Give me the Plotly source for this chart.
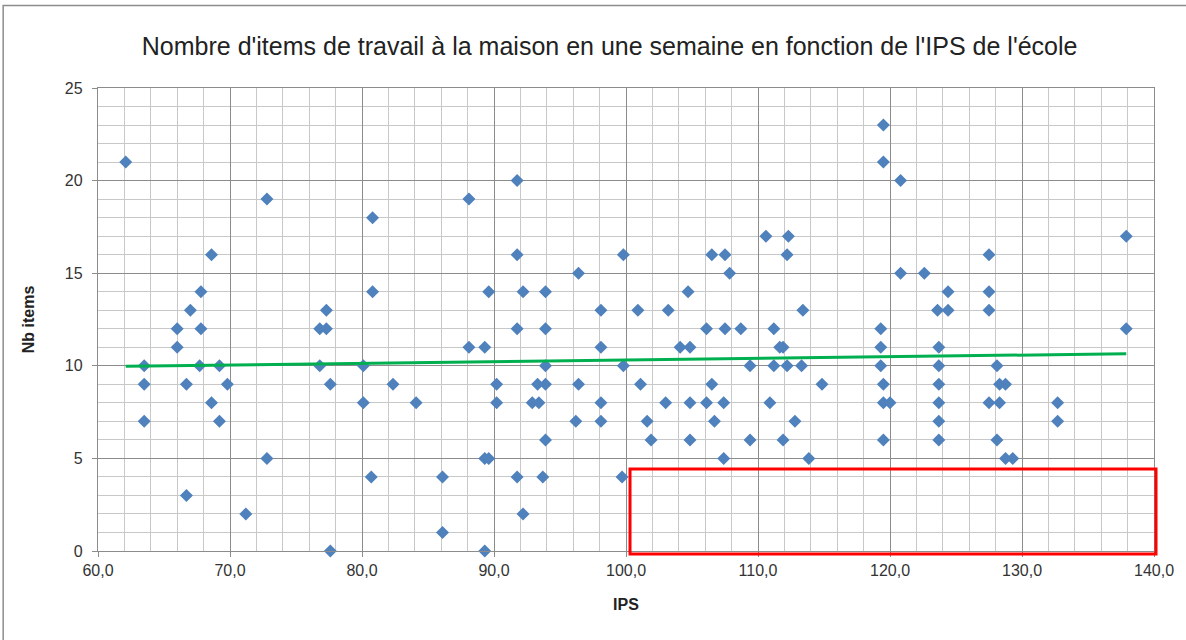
import plotly.graph_objects as go

# points, grouped by number of items (y)
ips = [
    119.5,
    62.1, 119.5,
    91.75, 120.8,
    72.8, 88.1,
    80.8,
    110.6, 112.3, 137.9,
    68.6, 91.75, 99.8, 106.5, 107.5, 112.2, 127.5,
    96.4, 107.85, 120.8, 122.6,
    67.8, 80.8, 89.6, 92.2, 93.9, 104.7, 124.4, 127.5,
    67.0, 77.3, 98.1, 100.9, 103.2, 113.4, 123.6, 124.4, 127.5,
    66.0, 67.8, 76.8, 77.3, 91.75, 93.9, 106.1, 107.5, 108.7, 111.2, 119.3, 137.9,
    66.0, 88.1, 89.3, 98.1, 104.1, 104.85, 111.65, 111.9, 119.3, 123.7,
    63.5, 67.7, 69.2, 76.8, 80.1, 93.9, 99.8, 109.4, 111.2, 112.2, 113.3, 119.3, 123.7, 128.1,
    63.5, 66.7, 69.8, 77.6, 82.35, 90.2, 93.3, 93.9, 96.4, 101.1, 106.5, 114.85, 119.5, 123.7, 128.3, 128.75,
    68.6, 80.1, 84.1, 90.2, 92.9, 93.4, 98.1, 103.0, 104.85, 106.1, 107.4, 110.9, 119.5, 120.0, 123.7, 127.5, 128.3, 132.7,
    63.5, 69.2, 96.2, 98.1, 101.6, 106.7, 112.8, 123.7, 132.7,
    93.9, 101.9, 104.85, 109.4, 111.9, 119.5, 123.7, 128.1,
    72.8, 89.3, 89.6, 107.4, 113.85, 128.75, 129.3,
    80.7, 86.1, 91.75, 93.7, 99.7,
    66.7,
    71.2, 92.2,
    86.1,
    77.6, 89.3,
]
items = (
    [23] * 1 + [21] * 2 + [20] * 2 + [19] * 2 + [18] * 1 + [17] * 3 + [16] * 7
    + [15] * 4 + [14] * 8 + [13] * 9 + [12] * 12 + [11] * 10 + [10] * 14
    + [9] * 16 + [8] * 18 + [7] * 9 + [6] * 8 + [5] * 7 + [4] * 5 + [3] * 1
    + [2] * 2 + [1] * 1 + [0] * 2
)

# linear trend line as drawn in the chart (ends at min / max IPS)
trend_x = [min(ips), max(ips)]
trend_y = [9.97, 10.65]

fig = go.Figure()
fig.add_trace(go.Scatter(x=ips, y=items, mode='markers',
                         marker=dict(symbol='diamond', size=10, color='#4F81BD'),
                         cliponaxis=False, showlegend=False))
fig.add_trace(go.Scatter(x=trend_x, y=trend_y, mode='lines',
                         line=dict(color='#00B050', width=3),
                         showlegend=False))

# red highlight box (bottom right) and outer chart frame
fig.add_shape(type='rect', xref='paper', yref='paper',
              x0=0.5038, x1=1.0019, y0=-0.0065, y1=0.177,
              line=dict(color='#FF0000', width=3))
fig.add_shape(type='rect', xref='paper', yref='paper',
              x0=-0.0898, x1=1.05, y0=-0.3, y1=1.178,
              line=dict(color='#8C8C8C', width=1.5))

fig.update_layout(
    width=1186, height=640,
    margin=dict(l=98, r=30, t=88, b=89),
    paper_bgcolor='white', plot_bgcolor='white',
    separators=', ',
    font=dict(family='Liberation Sans', color='#333333'),
    title=dict(text="Nombre d'items de travail à la maison en une semaine en fonction de l'IPS de l'école",
               x=0.514, xanchor='center', y=0.928, yanchor='middle',
               font=dict(size=25, color='#222222')),
)
fig.update_xaxes(range=[60, 140], dtick=10, tickformat='.1f',
                 showgrid=True, gridcolor='#8C8C8C', gridwidth=1.3,
                 minor=dict(dtick=2, showgrid=True, gridcolor='#C8C8C8', gridwidth=1.3),
                 showline=True, linecolor='#8C8C8C', linewidth=1.3, mirror=True,
                 ticks='outside', ticklen=5, tickcolor='#8C8C8C',
                 tickfont=dict(size=16, color='#333333'), zeroline=False,
                 title=dict(text='<b>IPS</b>', font=dict(size=16, color='#222222'), standoff=20))
fig.update_yaxes(range=[0, 25], dtick=5,
                 showgrid=True, gridcolor='#8C8C8C', gridwidth=1.3,
                 minor=dict(dtick=1, showgrid=True, gridcolor='#C8C8C8', gridwidth=1.3),
                 showline=True, linecolor='#8C8C8C', linewidth=1.3, mirror=True,
                 ticks='outside', ticklen=5, tickcolor='#8C8C8C', ticklabelstandoff=6,
                 tickfont=dict(size=16, color='#333333'), zeroline=False,
                 title=dict(text='<b>Nb items</b>', font=dict(size=16, color='#222222'), standoff=26))

fig.write_html("out.html", config={'displayModeBar': False},
               post_script="document.body.style.margin='0';")
